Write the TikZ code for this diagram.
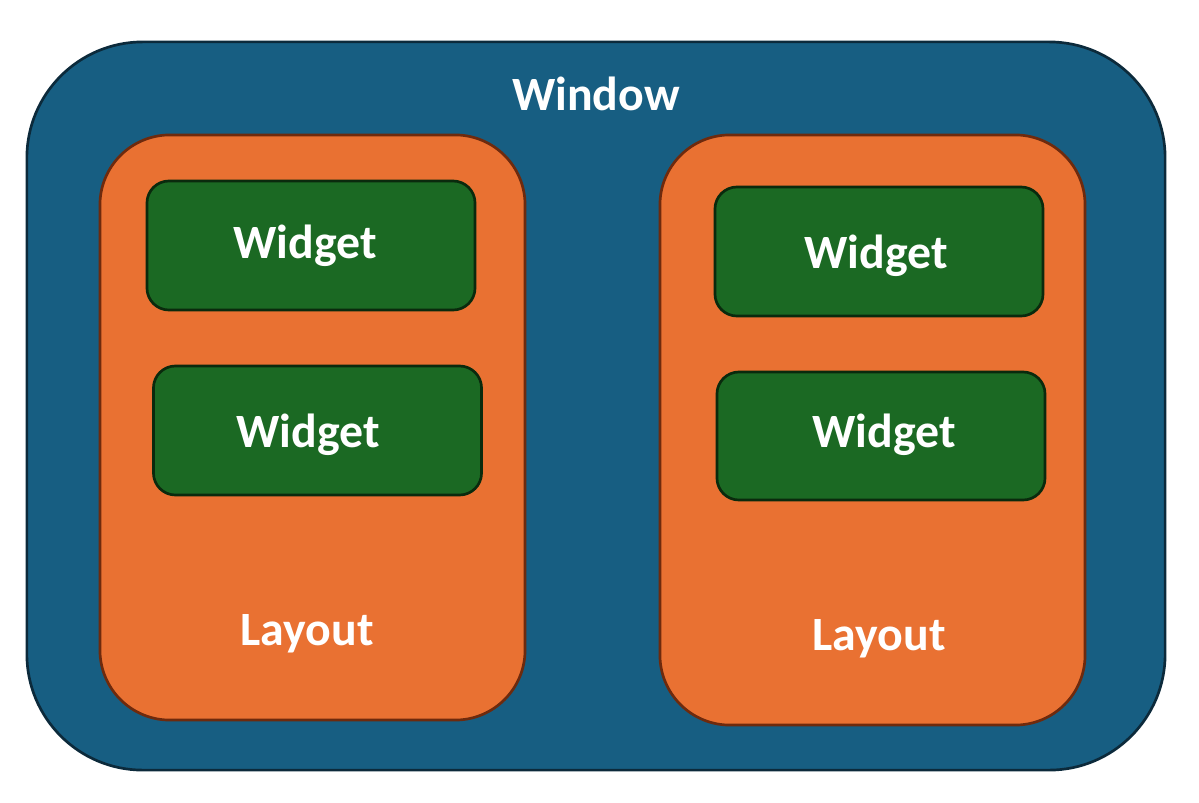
\documentclass[tikz,border=0pt]{standalone}
\usepackage{fontspec}
\setmainfont{Carlito}
\usepackage{tikz}
\usetikzlibrary{positioning}
\definecolor{winblue}{HTML}{175E82}
\definecolor{winedge}{HTML}{0C2A3B}
\definecolor{layorange}{HTML}{E97132}
\definecolor{layedge}{HTML}{6E2A0D}
\definecolor{widgreen}{HTML}{1B6923}
\definecolor{widedge}{HTML}{0A2A0D}

\begin{document}
\begin{tikzpicture}[x=0.025cm, y=-0.025cm, line width=1.9pt,
    every node/.style={text=white, font=\fontsize{34}{40}\selectfont\bfseries},
    windowbox/.style={rectangle, draw=winedge, fill=winblue, rounded corners=2.9cm},
    layoutbox/.style={rectangle, draw=layedge, fill=layorange, rounded corners=1.75cm, minimum width=10.625cm},
    widgetbox/.style={rectangle, draw=widedge, fill=widgreen, rounded corners=0.55cm, minimum width=8.2cm, minimum height=3.225cm}]
    \useasboundingbox (0,0) rectangle (1199,803);
            \node[windowbox, minimum width=28.45cm, minimum height=18.2cm] at (596,406) (window) {};
            \node at (596,94) (windowlabel) {Window};

            \node[layoutbox, minimum height=14.625cm] at (312.5,427.5) (layoutl) {};
            \node[layoutbox, minimum height=14.75cm] at (872.5,430) (layoutr) {};
            \node at (307,634) (layoutllabel) {Layout};
            \node at (879,639) (layoutrlabel) {Layout};

            \node[widgetbox] at (311,245.5) (widgetla) {};
            \node[widgetbox] at (317.5,430.5) (widgetlb) {};
            \node[widgetbox] at (879,251.5) (widgetra) {};
            \node[widgetbox, minimum height=3.2cm] at (881,436) (widgetrb) {};
            \node at (305,246) (widgetlatext) {Widget};
            \node at (308,435) (widgetlbtext) {Widget};
            \node at (876,256) (widgetratext) {Widget};
            \node at (884,435) (widgetrbtext) {Widget};
        \end{tikzpicture}
\end{document}
